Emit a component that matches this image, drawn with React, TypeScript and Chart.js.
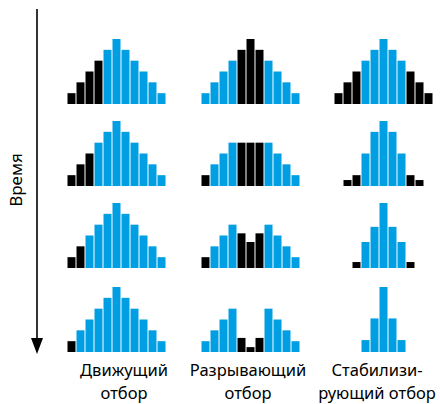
import React, { useEffect, useRef } from "react";
import { Chart, registerables } from "chart.js";

Chart.register(...registerables);

// Bar values (11 classes per histogram), rows = time steps, columns = selection type
const driving1 = [1, 2, 3, 4, 5, 6, 5, 4, 3, 2, 1];
const driving2 = [1, 2, 3, 4, 5, 6, 5, 4, 3, 2, 1];
const driving3 = [1, 2, 3, 4, 5, 6, 5, 4, 3, 2, 1];
const driving4 = [1, 2, 3, 4, 5, 6, 5, 4, 3, 2, 1];
const disruptive1 = [1, 2, 3, 4, 5, 6, 5, 4, 3, 2, 1];
const disruptive2 = [1, 2, 3, 4, 4, 4, 4, 4, 3, 2, 1];
const disruptive3 = [1, 2, 3, 4, 3.2, 2.4, 3.2, 4, 3, 2, 1];
const disruptive4 = [1, 2, 3, 4, 1.3, 0.45, 1.3, 4, 3, 2, 1];
const stabilizing1 = [1, 2, 3, 4, 5, 6, 5, 4, 3, 2, 1];
const stabilizing2 = [0, 0.55, 1, 3, 5, 6, 5, 3, 1, 0.55, 0];
const stabilizing3 = [0, 0, 0.55, 2.4, 3.8, 6, 3.8, 2.4, 0.55, 0, 0];
const stabilizing4 = [0, 0, 0, 1.1, 3.1, 6, 3.1, 1.1, 0, 0, 0];

// 1 = eliminated (black), 0 = remaining (blue)
const drivingMask1 = [1, 1, 1, 1, 0, 0, 0, 0, 0, 0, 0];
const drivingMask2 = [1, 1, 1, 0, 0, 0, 0, 0, 0, 0, 0];
const drivingMask3 = [1, 1, 0, 0, 0, 0, 0, 0, 0, 0, 0];
const drivingMask4 = [1, 0, 0, 0, 0, 0, 0, 0, 0, 0, 0];
const disruptiveMask1 = [0, 0, 0, 0, 1, 1, 1, 0, 0, 0, 0];
const disruptiveMask2 = [1, 0, 0, 0, 1, 1, 1, 0, 0, 0, 0];
const disruptiveMask3 = [1, 0, 0, 0, 1, 1, 1, 0, 0, 0, 0];
const disruptiveMask4 = [0, 0, 0, 0, 1, 1, 1, 0, 0, 0, 0];
const stabilizingMask1 = [1, 1, 1, 0, 0, 0, 0, 0, 1, 1, 1];
const stabilizingMask2 = [1, 1, 1, 0, 0, 0, 0, 0, 1, 1, 1];
const stabilizingMask3 = [1, 1, 1, 0, 0, 0, 0, 0, 1, 1, 1];
const stabilizingMask4 = [1, 1, 1, 0, 0, 0, 0, 0, 1, 1, 1];

const classes = ["1", "2", "3", "4", "5", "6", "7", "8", "9", "10", "11"];
const columnTitles = [
  ["Движущий", "отбор"],
  ["Разрывающий", "отбор"],
  ["Стабилизи-", "рующий отбор"],
];
const axisTitle = "Время";

const BLUE = "#009fe3";
const BLACK = "#000000";

const panels = [
  [driving1, disruptive1, stabilizing1],
  [driving2, disruptive2, stabilizing2],
  [driving3, disruptive3, stabilizing3],
  [driving4, disruptive4, stabilizing4],
];
const masks = [
  [drivingMask1, disruptiveMask1, stabilizingMask1],
  [drivingMask2, disruptiveMask2, stabilizingMask2],
  [drivingMask3, disruptiveMask3, stabilizingMask3],
  [drivingMask4, disruptiveMask4, stabilizingMask4],
];

const colLeft = [66.5, 200.5, 334];
const titleCenter = [124, 248, 377];
const rowBase = [104, 186, 268, 352];
const PANEL_W = 99;
const PANEL_H = 65;

function Histogram({ values, mask, left, base }: any) {
  const ref = useRef<HTMLCanvasElement | null>(null);
  useEffect(() => {
    if (!ref.current) return;
    const chart = new Chart(ref.current, {
      type: "bar",
      data: {
        labels: classes,
        datasets: [
          {
            data: values,
            backgroundColor: mask.map((m: number) => (m ? BLACK : BLUE)),
            borderWidth: 0,
            categoryPercentage: 1,
            barPercentage: 8 / 9,
          },
        ],
      },
      options: {
        animation: false,
        responsive: false,
        maintainAspectRatio: false,
        layout: { padding: 0 },
        plugins: { legend: { display: false }, tooltip: { enabled: false } },
        scales: {
          x: { display: false, offset: true, grid: { display: false } },
          y: { display: false, min: 0, max: 6, grid: { display: false } },
        },
        events: [],
      },
    });
    return () => chart.destroy();
  }, []);
  return (
    <canvas
      ref={ref}
      width={PANEL_W}
      height={PANEL_H}
      style={{
        position: "absolute",
        left,
        top: base - PANEL_H,
        width: PANEL_W,
        height: PANEL_H,
      }}
    />
  );
}

export default function App() {
  const font = "'Noto Sans', 'Open Sans', sans-serif";
  return (
    <div
      style={{
        position: "absolute",
        left: 0,
        top: 0,
        width: 440,
        height: 404,
        background: "#fff",
        fontFamily: font,
      }}
    >
      {panels.map((row, r) =>
        row.map((vals, c) => (
          <Histogram
            key={r + "-" + c}
            values={vals}
            mask={masks[r][c]}
            left={colLeft[c]}
            base={rowBase[r]}
          />
        ))
      )}
      <svg
        width={60}
        height={404}
        style={{ position: "absolute", left: 0, top: 0 }}
      >
        <line x1={37} y1={9} x2={37} y2={342} stroke="#000" strokeWidth={1.6} />
        <polygon points="31,338 43,338 37,354" fill="#000" />
      </svg>
      <div
        style={{
          position: "absolute",
          left: 15,
          top: 180,
          transform: "translate(-50%, -50%) rotate(-90deg)",
          fontSize: 17,
          whiteSpace: "nowrap",
          color: "#000",
        }}
      >
        {axisTitle}
      </div>
      {columnTitles.map((lines, c) => (
        <div
          key={c}
          style={{
            position: "absolute",
            left: titleCenter[c] - 75,
            width: 150,
            top: 358,
            textAlign: "center",
            fontSize: 16.5,
            lineHeight: "23px",
            color: "#000",
          }}
        >
          {lines.map((l, i) => (
            <div key={i}>{l}</div>
          ))}
        </div>
      ))}
    </div>
  );
}
